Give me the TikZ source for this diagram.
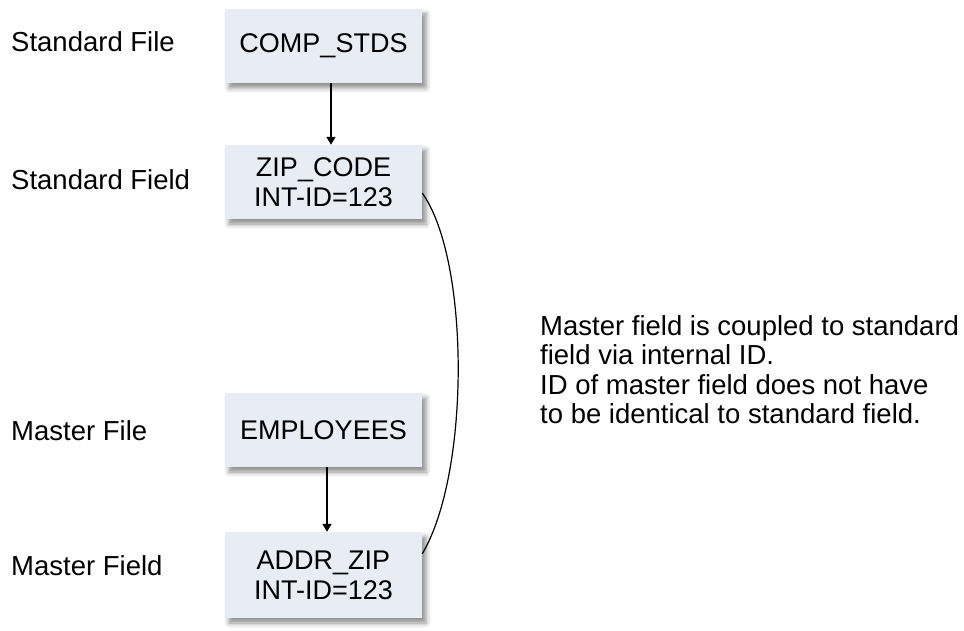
\documentclass[tikz,border=0pt]{standalone}
\usepackage{fontspec}
\setmainfont{Liberation Sans}
\usetikzlibrary{arrows.meta,shadows.blur}
\definecolor{boxfill}{RGB}{232,236,244}
\begin{document}
\begin{tikzpicture}[
  x=1pt, y=-1pt,
  box/.style={fill=boxfill, minimum width=197pt, align=center, inner sep=0pt,
    font=\fontsize{27}{30}\selectfont,
    blur shadow={shadow xshift=4pt, shadow yshift=-5pt, shadow blur radius=5pt, shadow opacity=45}},
  lbl/.style={anchor=base west, inner sep=0pt, font=\fontsize{27.5}{30}\selectfont},
  note/.style={anchor=north west, align=left, inner sep=0pt, font=\fontsize{27.5}{29.5}\selectfont},
  link/.style={line width=1.6pt, -{Triangle[width=9pt,length=8pt]}}
]
\useasboundingbox (0,0) rectangle (964,631);

\node[box, minimum height=74pt] (stds) at (323.5,46) {COMP\_STDS};
\node[box, minimum height=74pt] (zip) at (323.5,182) {ZIP\_CODE\\INT-ID=123};
\node[box, minimum height=74pt] (emp) at (323.5,430) {EMPLOYEES};
\node[box, minimum height=86pt] (addr) at (323.5,575) {ADDR\_ZIP\\INT-ID=123};

\node[lbl] (stdfile) at (11,52) {Standard File};
\node[lbl] (stdfield) at (11,190) {Standard Field};
\node[lbl] (mstfile) at (11,440) {Master File};
\node[lbl] (mstfield) at (11,575) {Master Field};

\node[note] (remark) at (540,315) {Master field is coupled to standard\\field via internal ID.\\ID of master field does not have\\to be identical to standard field.};

\draw[link] ([xshift=7.5pt]stds.south) -- ([xshift=7.5pt]zip.north);
\draw[link] ([xshift=3.5pt]emp.south) -- ([xshift=3.5pt]addr.north);
\draw[line width=1.2pt] ([yshift=-11pt]zip.east) .. controls +(48,67) and +(48,-80) .. ([yshift=-22pt]addr.north east);
\end{tikzpicture}
\end{document}
